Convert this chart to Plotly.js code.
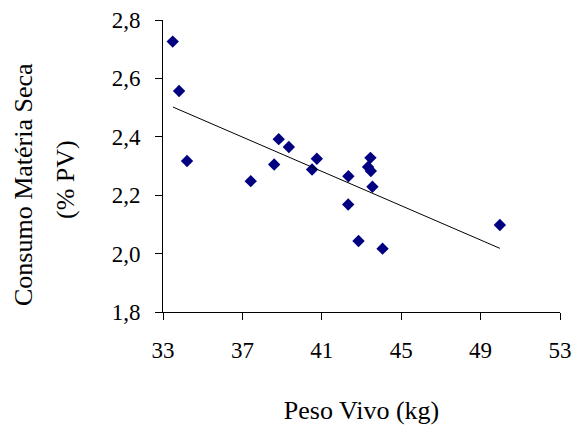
<!DOCTYPE html>
<html>
<head>
<meta charset="utf-8">
<script src="https://cdn.plot.ly/plotly-3.0.1.min.js"></script>
<style>html,body{margin:0;padding:0;background:#fff;}#chart{width:576px;height:425px;}</style>
</head>
<body>
<div id="chart"></div>
<script>
// Peso Vivo (kg)
const pesoVivo = [33.49, 33.81, 34.21, 37.42, 38.60, 38.83, 39.34, 40.51, 40.75, 42.34, 42.33, 42.85, 44.06, 43.45, 43.33, 43.47, 43.55, 49.97];
// Consumo Matéria Seca (% PV)
const consumoMS = [2.726, 2.557, 2.317, 2.248, 2.305, 2.392, 2.365, 2.288, 2.325, 2.265, 2.168, 2.043, 2.017, 2.328, 2.297, 2.283, 2.229, 2.098];
// Linear trend line endpoints
const trendX = [33.5, 49.97];
const trendY = [2.502, 2.018];

const xTickVals = [33, 37, 41, 45, 49, 53];
const yTickVals = [1.8, 2.0, 2.2, 2.4, 2.6, 2.8];

const FONT = 'Liberation Serif';

const data = [
  {
    x: pesoVivo, y: consumoMS, type: 'scatter', mode: 'markers',
    marker: {symbol: 'diamond', size: 9.5, color: '#000080', line: {width: 0}},
    showlegend: false, hoverinfo: 'x+y'
  },
  {
    x: trendX, y: trendY, type: 'scatter', mode: 'lines',
    line: {color: '#000000', width: 1},
    showlegend: false, hoverinfo: 'skip'
  }
];

const layout = {
  width: 576, height: 425,
  margin: {l: 163, r: 16, t: 20, b: 113, pad: 0},
  paper_bgcolor: '#ffffff', plot_bgcolor: '#ffffff',
  separators: ',.',
  font: {family: FONT, size: 23, color: '#000000'},
  xaxis: {
    range: [33, 53], tickvals: xTickVals, ticktext: xTickVals.map(String),
    showgrid: false, zeroline: false, showline: true, linecolor: '#000', linewidth: 1,
    ticks: 'outside', ticklen: 7, tickcolor: '#000', tickwidth: 1,
    tickfont: {family: FONT, size: 23, color: '#000'}, ticklabelstandoff: 10,
    title: {text: 'Peso Vivo (kg)', font: {family: FONT, size: 26, color: '#000'}, standoff: 40},
    automargin: false, fixedrange: true
  },
  yaxis: {
    range: [1.8, 2.8], tickvals: yTickVals, tickformat: '.1f',
    showgrid: false, zeroline: false, showline: true, linecolor: '#000', linewidth: 1,
    ticks: 'outside', ticklen: 7, tickcolor: '#000', tickwidth: 1,
    tickfont: {family: FONT, size: 23, color: '#000'}, ticklabelstandoff: 10,
    title: {text: ''},
    automargin: false, fixedrange: true
  },
  annotations: [
    {text: 'Consumo Matéria Seca', xref: 'paper', yref: 'paper', x: -163/397, y: (425-113-185)/292, xanchor: 'center', yanchor: 'middle', xshift: 24, textangle: -90, showarrow: false, font: {family: FONT, size: 26, color: '#000'}},
    {text: '(% PV)', xref: 'paper', yref: 'paper', x: -163/397, y: (425-113-180)/292, xanchor: 'center', yanchor: 'middle', xshift: 65, textangle: -90, showarrow: false, font: {family: FONT, size: 26, color: '#000'}}
  ]
};

Plotly.newPlot('chart', data, layout, {displayModeBar: false, staticPlot: true});
</script>
</body>
</html>
